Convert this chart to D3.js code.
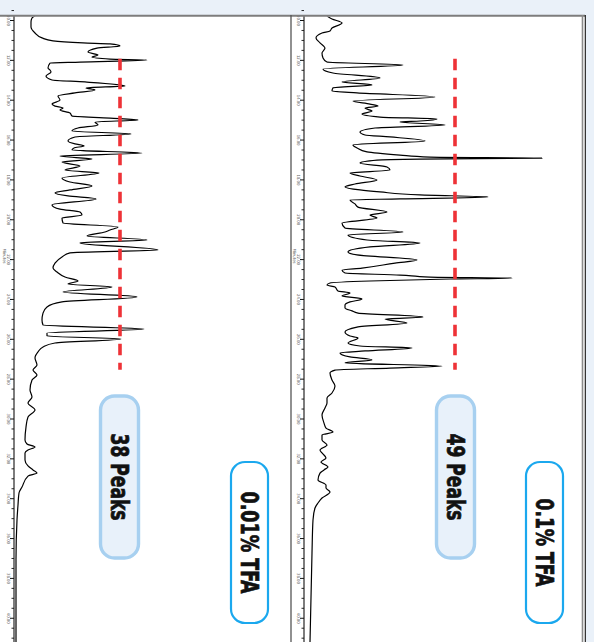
<!DOCTYPE html>
<html>
<head>
<meta charset="utf-8">
<script src="https://cdn.jsdelivr.net/npm/d3@7"></script>
<style>
  html, body { margin: 0; padding: 0; background: #ffffff; }
  svg { display: block; }
</style>
</head>
<body>
<svg id="chart" width="594" height="642"></svg>
<script>
// ---------------- DATA ----------------
// Retention time (minutes) axis tick labels
const timeTickLabels = [10, 12, 14, 16, 18, 20, 22, 24, 26, 28, 30, 32, 34, 36, 38, 40];

// Panel A: 0.01% TFA  (time in min, detector signal in arbitrary units)
const timeA = [9.80, 9.90, 10.10, 10.35, 10.65, 10.90, 11.05, 11.15, 11.20, 11.30, 11.41, 11.61, 11.76, 11.86, 11.96, 12.01, 12.11, 12.16, 12.41, 12.51, 12.61, 12.81, 13.01, 13.11, 13.31, 13.41, 13.51, 13.66, 13.81, 14.02, 14.22, 14.32, 14.42, 14.52, 14.67, 14.82, 14.92, 15.02, 15.12, 15.27, 15.42, 15.57, 15.72, 15.87, 16.07, 16.22, 16.32, 16.42, 16.52, 16.68, 16.83, 16.98, 17.13, 17.33, 17.53, 17.68, 17.93, 18.13, 18.33, 18.53, 18.68, 18.83, 18.98, 19.28, 19.49, 19.64, 19.79, 19.94, 20.19, 20.39, 20.54, 20.64, 20.84, 21.04, 21.19, 21.54, 21.69, 21.89, 22.20, 22.45, 22.65, 22.90, 23.10, 23.25, 23.40, 23.65, 23.90, 24.15, 24.40, 24.71, 25.06, 25.31, 25.51, 25.71, 25.86, 26.01, 26.21, 26.41, 26.66, 26.96, 27.31, 27.57, 27.82, 28.07, 28.57, 28.92, 29.22, 29.57, 29.92, 30.43, 31.08, 31.28, 31.43, 31.58, 31.73, 32.08, 32.38, 32.58, 32.74, 32.89, 33.44, 33.74, 34.34, 35.09, 37.10, 39.11, 41.22];
const signalA = [21, 18, 17, 17, 21, 28, 39, 69, 96, 106, 83, 74, 84, 78, 96, 133, 66, 36, 34, 36, 37, 32, 38, 71, 111, 72, 81, 61, 44, 46, 38, 41, 49, 46, 56, 58, 96, 124, 81, 84, 64, 58, 117, 61, 54, 61, 70, 60, 58, 128, 46, 78, 48, 66, 51, 85, 48, 56, 78, 56, 41, 54, 82, 38, 46, 66, 68, 48, 49, 104, 96, 91, 73, 133, 66, 144, 56, 48, 41, 39, 43, 51, 64, 54, 98, 49, 123, 48, 33, 29, 28, 29, 130, 33, 33, 107, 41, 29, 24, 21, 23, 19, 23, 18, 16, 18, 14, 21, 14, 12, 11, 13, 21, 14, 11, 11, 14, 19, 23, 14, 8, 5, 4, 3, 2, 2, 2];

// Panel B: 0.1% TFA
const timeB = [9.80, 9.95, 10.15, 10.40, 10.55, 10.65, 10.90, 11.15, 11.41, 11.66, 11.91, 12.11, 12.26, 12.46, 12.66, 12.91, 13.11, 13.26, 13.41, 13.56, 13.66, 13.86, 14.07, 14.22, 14.32, 14.42, 14.57, 14.72, 14.87, 14.97, 15.07, 15.12, 15.27, 15.42, 15.62, 15.77, 15.87, 16.07, 16.27, 16.42, 16.62, 16.78, 16.88, 16.93, 16.98, 17.03, 17.18, 17.38, 17.53, 17.68, 17.83, 18.03, 18.23, 18.38, 18.53, 18.63, 18.78, 18.88, 18.98, 19.03, 19.23, 19.39, 19.64, 19.79, 19.94, 20.19, 20.44, 20.64, 20.79, 21.04, 21.19, 21.39, 21.64, 21.79, 22.05, 22.20, 22.45, 22.55, 22.70, 22.80, 22.90, 22.95, 23.00, 23.10, 23.20, 23.30, 23.40, 23.60, 23.70, 23.85, 24.00, 24.15, 24.30, 24.45, 24.60, 24.71, 24.91, 25.01, 25.21, 25.41, 25.66, 25.86, 25.96, 26.21, 26.36, 26.46, 26.61, 26.71, 26.91, 27.06, 27.21, 27.37, 27.47, 27.57, 27.72, 28.07, 28.37, 28.72, 28.97, 29.22, 29.47, 29.82, 30.23, 30.48, 30.68, 30.83, 31.08, 31.33, 31.58, 31.73, 31.98, 32.18, 32.43, 32.58, 32.74, 33.09, 33.34, 33.49, 33.69, 33.99, 34.24, 34.49, 35.09, 36.75, 41.22];
const signalB = [23, 28, 38, 28, 26, 18, 12, 16, 21, 18, 19, 23, 99, 19, 29, 76, 38, 68, 29, 28, 53, 131, 49, 66, 74, 61, 68, 58, 76, 133, 116, 96, 141, 71, 56, 61, 86, 121, 49, 53, 63, 96, 126, 238, 116, 73, 56, 83, 86, 46, 56, 73, 51, 41, 56, 76, 116, 184, 96, 46, 51, 54, 83, 66, 73, 38, 41, 99, 44, 63, 116, 66, 44, 53, 113, 91, 58, 38, 41, 96, 126, 208, 146, 66, 26, 23, 31, 34, 46, 38, 58, 46, 41, 41, 48, 54, 119, 81, 103, 53, 41, 46, 54, 44, 56, 108, 61, 36, 46, 68, 41, 138, 86, 31, 26, 28, 31, 28, 23, 23, 21, 18, 20, 22, 29, 18, 18, 23, 16, 18, 22, 17, 24, 20, 16, 14, 22, 22, 26, 18, 14, 11, 9, 8, 6];

// Dashed reference (threshold) lines
const thresholdSignals = [106, 151];
const thresholdTimes = [11.95, 27.55];

// Annotations
const peakCounts = ["38 Peaks", "49 Peaks"];
const conditions = ["0.01% TFA", "0.1% TFA"];

// ---------------- DRAWING ----------------
const svg = d3.select("#chart");
const W = 594, H = 642;
const labelFont = "'Liberation Sans Narrow', 'Arial Narrow', 'DejaVu Sans Condensed', 'DejaVu Sans', sans-serif";

// background
svg.append("rect").attr("x", 0).attr("y", 0).attr("width", W).attr("height", H).attr("fill", "#ffffff");
svg.append("rect").attr("x", 0).attr("y", 0).attr("width", W).attr("height", 15).attr("fill", "#eaf1f9");
svg.append("rect").attr("x", 586).attr("y", 0).attr("width", 8).attr("height", H).attr("fill", "#eaf1f9");

const y = d3.scaleLinear().domain([10, 40]).range([20, 617.75]);

const defs = svg.append("defs");
defs.append("clipPath").attr("id", "plotclip")
  .append("rect").attr("x", 0).attr("y", 16.5).attr("width", 586).attr("height", H);

const panels = [
  { axisX: 14, time: timeA, signal: signalA, thr: thresholdSignals[0],
    peakBox: { x: 100.5, y: 396, w: 38, h: 162 }, condBox: { x: 231, y: 462, w: 37, h: 161 },
    peakText: peakCounts[0], condText: conditions[0], peakLen: 87, condLen: 102 },
  { axisX: 304, time: timeB, signal: signalB, thr: thresholdSignals[1],
    peakBox: { x: 436.5, y: 396, w: 38, h: 162 }, condBox: { x: 526, y: 462, w: 37, h: 161 },
    peakText: peakCounts[1], condText: conditions[1], peakLen: 87, condLen: 88 }
];

const minorTicks = [9.5];
for (let i = 0; i < timeTickLabels.length; i++) {
  for (let k = 1; k < 4; k++) minorTicks.push(timeTickLabels[i] + k * 0.5);
}

panels.forEach((p) => {
  const x = d3.scaleLinear().domain([0, 100]).range([p.axisX, p.axisX + 100]);
  const g = svg.append("g");

  // minor ticks
  const minorAxis = d3.axisLeft(y).tickValues(minorTicks).tickSize(2.5).tickFormat("");
  const gm = g.append("g").attr("transform", `translate(${p.axisX},0)`).call(minorAxis);
  gm.select(".domain").remove();
  gm.selectAll(".tick line").attr("stroke", "#111").attr("stroke-width", 0.9);

  // major ticks
  const majorAxis = d3.axisLeft(y).tickValues(timeTickLabels).tickSize(4)
    .tickFormat(d3.format(".2f")).tickPadding(3);
  const ga = g.append("g").attr("transform", `translate(${p.axisX},0)`).call(majorAxis);
  ga.select(".domain").remove();
  ga.selectAll(".tick line").attr("stroke", "#111").attr("stroke-width", 1);
  ga.selectAll(".tick text")
    .attr("font-family", labelFont)
    .attr("font-size", 4.2)
    .attr("fill", "#666")
    .attr("x", -7.5).attr("dy", 0)
    .attr("text-anchor", "middle")
    .attr("transform", "rotate(90,-7.5,0)");

  // axis line
  g.append("line").attr("x1", p.axisX).attr("x2", p.axisX)
    .attr("y1", 16).attr("y2", H).attr("stroke", "#111").attr("stroke-width", 1.1);

  // axis title
  g.append("text").attr("x", p.axisX - 11).attr("y", 256)
    .attr("font-family", labelFont)
    .attr("font-size", 4.2).attr("fill", "#666").attr("text-anchor", "middle")
    .attr("transform", `rotate(90,${p.axisX - 11},256)`).text("Minutes");

  // chromatogram trace
  const pts = p.time.map((t, i) => [t, p.signal[i]]);
  const line = d3.line().x(d => x(d[1])).y(d => y(d[0])).curve(d3.curveMonotoneY);
  g.append("path").datum(pts).attr("d", line)
    .attr("clip-path", "url(#plotclip)")
    .attr("fill", "none").attr("stroke", "#000").attr("stroke-width", 1.2)
    .attr("stroke-linejoin", "round");

  // dashed threshold line
  g.append("line")
    .attr("x1", x(p.thr)).attr("x2", x(p.thr))
    .attr("y1", y(thresholdTimes[0])).attr("y2", y(thresholdTimes[1]))
    .attr("stroke", "#ee3237").attr("stroke-width", 3.6)
    .attr("stroke-dasharray", "11.5,7.5");

  // peak count box
  const pb = p.peakBox;
  g.append("rect").attr("x", pb.x).attr("y", pb.y).attr("width", pb.w).attr("height", pb.h)
    .attr("rx", 14).attr("ry", 14)
    .attr("fill", "#e8f1fa").attr("stroke", "#a7d0f0").attr("stroke-width", 3.4);
  const pcx = pb.x + pb.w / 2, pcy = pb.y + pb.h / 2;
  g.append("text").attr("x", pcx).attr("y", pcy)
    .attr("transform", `rotate(90,${pcx},${pcy})`)
    .attr("text-anchor", "middle").attr("dominant-baseline", "central")
    .attr("font-family", labelFont)
    .attr("font-weight", "bold").attr("font-size", 25).attr("fill", "#111")
    .attr("stroke", "#111").attr("stroke-width", 0.7)
    .attr("textLength", p.peakLen).attr("lengthAdjust", "spacingAndGlyphs")
    .text(p.peakText);

  // condition box
  const cb = p.condBox;
  g.append("rect").attr("x", cb.x).attr("y", cb.y).attr("width", cb.w).attr("height", cb.h)
    .attr("rx", 14).attr("ry", 14)
    .attr("fill", "#ffffff").attr("stroke", "#1ba8ee").attr("stroke-width", 2.2);
  const ccx = cb.x + cb.w / 2, ccy = cb.y + cb.h / 2;
  g.append("text").attr("x", ccx).attr("y", ccy)
    .attr("transform", `rotate(90,${ccx},${ccy})`)
    .attr("text-anchor", "middle").attr("dominant-baseline", "central")
    .attr("font-family", labelFont)
    .attr("font-weight", "bold").attr("font-size", 25).attr("fill", "#111")
    .attr("stroke", "#111").attr("stroke-width", 0.7)
    .attr("textLength", p.condLen).attr("lengthAdjust", "spacingAndGlyphs")
    .text(p.condText);
});

// frame lines
svg.append("line").attr("x1", 0).attr("x2", 585).attr("y1", 15.8).attr("y2", 15.8)
  .attr("stroke", "#7d7d7d").attr("stroke-width", 2);
svg.append("line").attr("x1", 291).attr("x2", 291).attr("y1", 15).attr("y2", H)
  .attr("stroke", "#555").attr("stroke-width", 1.3);
svg.append("line").attr("x1", 582.5).attr("x2", 582.5).attr("y1", 15).attr("y2", H)
  .attr("stroke", "#8a8a8a").attr("stroke-width", 1.6);
svg.append("line").attr("x1", 585.3).attr("x2", 585.3).attr("y1", 15).attr("y2", H)
  .attr("stroke", "#111").attr("stroke-width", 1.1);
</script>
</body>
</html>
